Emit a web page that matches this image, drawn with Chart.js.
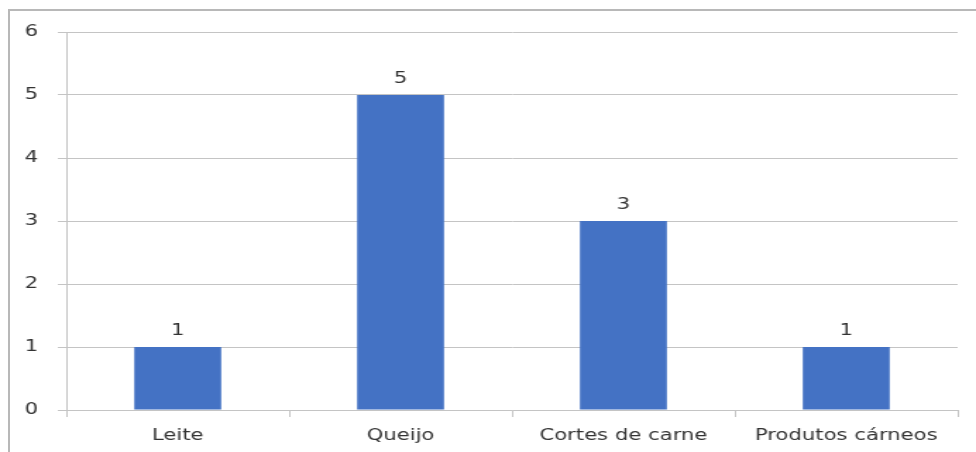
<!DOCTYPE html>
<html>
<head>
<meta charset="utf-8">
<script src="https://cdn.jsdelivr.net/npm/chart.js@4"></script>
<style>
    html, body { margin: 0; padding: 0; background: #fff; overflow: hidden; }
    body { width: 976px; height: 452px; position: relative; }
    #frame {
        position: absolute; left: 8px; top: 9px;
        width: 2000px; height: 2000px;
        border: 2px solid #b8b8b8; box-sizing: border-box;
    }
    /* the canvas is drawn narrow and widened, like the wide lettering of the sheet */
    #chart {
        position: absolute; left: 0; top: 0;
        transform: scaleX(1.4104); transform-origin: 0 0;
    }
</style>
</head>
<body>
<div id="frame"></div>
<canvas id="chart" width="692" height="452"></canvas>
<script>
var categories = ['Leite', 'Queijo', 'Cortes de carne', 'Produtos cárneos'];
var counts = [1, 5, 3, 1];
var yTicks = [0, 1, 2, 3, 4, 5, 6];

var textColor = '#333333';
var lineColor = '#c4c4c4';
var font = { family: 'DejaVu Sans', size: 15 };

// valor em cima de cada barra
var valueLabels = {
    id: 'valueLabels',
    afterDatasetsDraw: function (chart) {
        var ctx = chart.ctx;
        var meta = chart.getDatasetMeta(0);
        ctx.save();
        ctx.fillStyle = textColor;
        ctx.font = font.size + 'px "' + font.family + '"';
        ctx.textAlign = 'center';
        ctx.textBaseline = 'alphabetic';
        meta.data.forEach(function (bar, i) {
            ctx.fillText(String(counts[i]), bar.x, bar.y - 12);
        });
        ctx.restore();
    }
};

new Chart(document.getElementById('chart').getContext('2d'), {
    type: 'bar',
    data: {
        labels: categories,
        datasets: [{
            data: counts,
            backgroundColor: '#4472C4',
            borderWidth: 0,
            barPercentage: 0.39,
            categoryPercentage: 1
        }]
    },
    options: {
        responsive: false,
        animation: false,
        devicePixelRatio: 1,
        layout: { padding: { top: 32, right: 13, bottom: 0, left: 0 } },
        plugins: {
            legend: { display: false },
            tooltip: { enabled: false }
        },
        scales: {
            x: {
                offset: true,
                grid: {
                    display: true,
                    drawOnChartArea: false,
                    drawTicks: true,
                    tickLength: 7,
                    color: lineColor,
                    offset: true
                },
                border: { display: true, color: lineColor, width: 1 },
                ticks: { color: textColor, font: font, padding: 10, maxRotation: 0 },
                afterFit: function (scale) { scale.height = 42; }
            },
            y: {
                min: 0,
                max: 6,
                afterBuildTicks: function (scale) {
                    scale.ticks = yTicks.map(function (v) { return { value: v }; });
                },
                grid: {
                    color: lineColor,
                    lineWidth: 1,
                    drawTicks: true,
                    tickLength: 6
                },
                border: { display: true, color: lineColor, width: 1 },
                ticks: { color: textColor, font: font, padding: 14 },
                afterFit: function (scale) { scale.width = 47; }
            }
        }
    },
    plugins: [valueLabels]
});
</script>
</body>
</html>
